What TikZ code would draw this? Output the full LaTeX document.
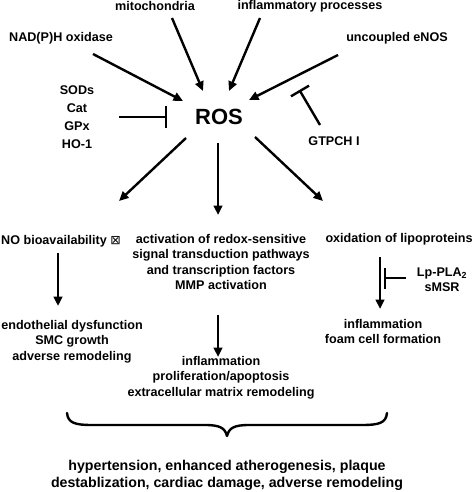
\documentclass[tikz,border=0pt]{standalone}
\usepackage{fontspec}
\setmainfont{Liberation Sans}
\newfontfamily\symfont{DejaVu Sans}
\usetikzlibrary{arrows.meta}
\begin{document}
\begin{tikzpicture}[x=1pt,y=-1pt,
  lbl/.style={font=\fontsize{12.6}{15.5}\selectfont\bfseries, align=center, inner sep=0pt},
  big/.style={font=\fontsize{14.2}{17}\selectfont\bfseries, align=center, inner sep=0pt},
  act/.style={line width=2.4pt, -{Triangle[length=9.5pt,width=8.5pt]}},
  inh/.style={line width=2.4pt, -{Bar[width=21pt,line width=2.4pt]}, shorten >=-1.2pt},
]
\useasboundingbox (0,0) rectangle (474,492);
% top texts
\node[lbl] (mito) at (155,6) {mitochondria};
\node[lbl] (infl) at (310,6) {inflammatory processes};
\node[lbl] (nadph) at (61,38) {NAD(P)H oxidase};
\node[lbl] (enos) at (397,38) {uncoupled eNOS};
\node[lbl, font=\fontsize{12.6}{18}\selectfont\bfseries] (sods) at (77,117) {SODs\\Cat\\GPx\\HO-1};
\node[font=\fontsize{22}{26}\selectfont\bfseries, inner sep=0pt] (ros) at (219,117) {ROS};
\node[lbl] (gtpch) at (334,141) {GTPCH I};
% coordinates for arrows
\coordinate (mitoA) at (172,18); \coordinate (mitoB) at (203,91);
\coordinate (inflA) at (260,18); \coordinate (inflB) at (229,91);
\coordinate (nadA) at (93,54);   \coordinate (nadB) at (183,101);
\coordinate (enosA) at (338,55); \coordinate (enosB) at (249,100);
\coordinate (sodA) at (119,117); \coordinate (sodB) at (166,117);
\coordinate (gtA) at (320,125);  \coordinate (gtB) at (300,91);
\coordinate (dlA) at (186,138);  \coordinate (dlB) at (119,201);
\coordinate (dmA) at (218,143);  \coordinate (dmB) at (218,215);
\coordinate (drA) at (255,137);  \coordinate (drB) at (323,201);
\draw[act] (mitoA) -- (mitoB);
\draw[act] (inflA) -- (inflB);
\draw[act] (nadA) -- (nadB);
\draw[act] (enosA) -- (enosB);
\draw[inh] (sodA) -- (sodB);
\draw[inh] (gtA) -- (gtB);
\draw[act] (dlA) -- (dlB);
\draw[act] (dmA) -- (dmB);
\draw[act] (drA) -- (drB);
% middle texts
\node[lbl, anchor=west] (nobio) at (1,241) {NO bioavailability {\symfont\mdseries\fontsize{12.5}{12}\selectfont ⊠}};
\node[lbl, anchor=north] (redox) at (221,234) {activation of redox-sensitive\\signal transduction pathways\\and transcription factors\\MMP activation};
\node[lbl] (oxlip) at (399,239) {oxidation of lipoproteins};
\node[lbl, font=\fontsize{12.6}{15}\selectfont\bfseries] (lppla) at (442,280) {Lp-PLA\textsubscript{2}\\sMSR};
\coordinate (lA) at (58,253); \coordinate (lB) at (58,306);
\coordinate (rA) at (380,257); \coordinate (rB) at (380,309);
\coordinate (lpA) at (406,278); \coordinate (lpB) at (385,278);
\coordinate (mA) at (218,315); \coordinate (mB) at (218,357);
\draw[act] (lA) -- (lB);
\draw[act] (rA) -- (rB);
\draw[inh] (lpA) -- (lpB);
\draw[act] (mA) -- (mB);
% lower texts
\node[lbl, anchor=north] (endo) at (72,320) {endothelial dysfunction\\SMC growth\\adverse remodeling};
\node[lbl, anchor=north] (inflm) at (221,356) {inflammation\\proliferation/apoptosis\\extracellular matrix remodeling};
\node[lbl, anchor=north] (foam) at (383,319) {inflammation\\foam cell formation};
% brace
\coordinate (brL) at (67,413); \coordinate (brT) at (227,436); \coordinate (brR) at (387,413);
\draw[line width=2.4pt, line cap=round, line join=round]
  (brL) .. controls (68,423) and (75,425) .. (92,425) -- (205,425)
  .. controls (220,425) and (225,428) .. (brT)
  .. controls (229,428) and (234,425) .. (249,425) -- (362,425)
  .. controls (379,425) and (386,423) .. (brR);
\node[big] (outcome) at (227,475) {hypertension, enhanced atherogenesis, plaque\\destablization, cardiac damage, adverse remodeling};
\end{tikzpicture}
\end{document}
